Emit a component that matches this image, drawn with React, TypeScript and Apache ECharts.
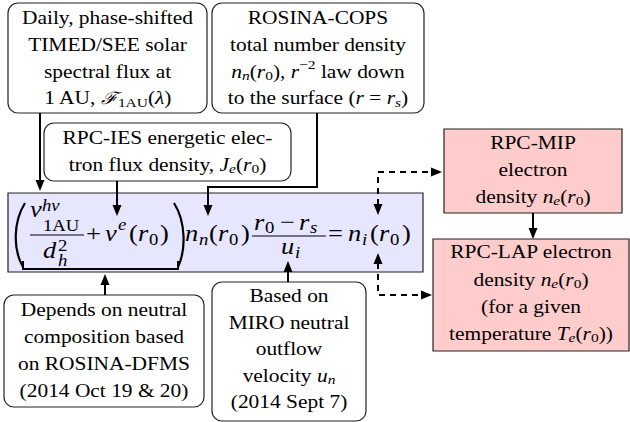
import React, { useEffect, useRef } from "react";
import * as echarts from "echarts";

// ---------------- content ----------------
const timedLines = ["Daily, phase-shifted", "TIMED/SEE solar", "spectral flux at", "1 AU, {cal|ℱ}{sub|1AU}({i|λ})"];
const copsLines = ["ROSINA-COPS", "total number density", "{i|n}{isub|n}({i|r}{sub|0}), {i|r}{sup|−2} law down", "to the surface ({i|r} = {i|r}{isub|s})"];
const iesLines = ["RPC-IES energetic elec-", "tron flux density, {i|J}{isub|e}({i|r}{sub|0})"];
const dfmsLines = ["Depends on neutral", "composition based", "on ROSINA-DFMS", "(2014 Oct 19 & 20)"];
const miroLines = ["Based on", "MIRO neutral", "outflow", "velocity {i|u}{isub|n}", "(2014 Sept 7)"];
const mipLines = ["RPC-MIP", "electron", "density {i|n}{isub|e}({i|r}{sub|0})"];
const lapLines = ["RPC-LAP electron", "density {i|n}{isub|e}({i|r}{sub|0})", "(for a given", "temperature {i|T}{isub|e}({i|r}{sub|0}))"];

// formula glyphs and their kinds (m = main upright, mi = main italic, s = small upright, si = small italic)
const formulaGlyphs = ["ν", "hν", "1AU", "d", "2", "h", "+", "ν", "e", "(", "r", "0", ")", "n", "n", "(", "r", "0", ")", "r", "0", "−", "r", "s", "u", "i", "=", "n", "i", "(", "r", "0", ")"];
const formulaKinds = ["mi", "si", "s", "mi", "s", "si", "m", "mi", "si", "m", "mi", "s", "m", "mi", "si", "m", "mi", "s", "m", "mi", "s", "m", "mi", "si", "mi", "si", "m", "mi", "si", "m", "mi", "s", "m"];

// ---------------- layout ----------------
const formulaLayout = [
  [30, 217], [42, 211], [43, 231], [43, 258], [58, 251], [58, 266],
  [86, 241], [105, 241], [118, 230],
  [129, 241], [138, 241], [149, 245], [160, 241],
  [185, 241], [199, 245],
  [209, 241], [218, 241], [229, 245], [241, 241],
  [254, 230], [265, 233], [280, 230], [299, 230], [310, 233],
  [281, 254], [295, 258],
  [328, 241],
  [348, 241], [362, 245],
  [370, 241], [379, 241], [390, 245], [402, 241],
];
const fractionBars = [[30, 84, 235], [252, 326, 236]];

const FONT = "Liberation Serif";
const TEXT_SIZE = 18;
const TEXT_SX = 1.19;
const MATH_M = 24;
const MATH_S = 17;
const MATH_SX = 1.1;
const CENTRAL = 0.3375;
const BLUE = "#e6e6ff";
const PINK = "#ffcccc";

const RICH = {
  t: { fontFamily: FONT, fontSize: TEXT_SIZE, fill: "#000" },
  i: { fontFamily: FONT, fontSize: TEXT_SIZE, fontStyle: "italic", fill: "#000" },
  sub: { fontFamily: FONT, fontSize: 13, fill: "#000", padding: [8, 0, 0, 0] },
  isub: { fontFamily: FONT, fontSize: 13, fontStyle: "italic", fill: "#000", padding: [8, 0, 0, 0] },
  sup: { fontFamily: FONT, fontSize: 13, fill: "#000", padding: [0, 0, 14, 0] },
  cal: { fontFamily: "DejaVu Serif", fontSize: 17, fontStyle: "italic", fill: "#000" },
};

// wrap every untagged run of text in the plain rich style "t"
function wrapPlain(s: string): string {
  return s.split(/(\{[a-z]+\|[^}]*\})/).map((p) => (p === "" ? "" : p[0] === "{" ? p : `{t|${p}}`)).join("");
}

type Box = { lines: string[]; x: number; y: number; w: number; h: number; r: number; fill: string; cx: number; b0: number; gap: number };

const boxes: Box[] = [
  { lines: timedLines, x: 8, y: 3, w: 199, h: 110, r: 10, fill: "#fff", cx: 107.5, b0: 24, gap: 26.7 },
  { lines: copsLines, x: 212, y: 3, w: 212, h: 110, r: 10, fill: "#fff", cx: 318, b0: 24, gap: 26.7 },
  { lines: iesLines, x: 44, y: 123, w: 247, h: 58, r: 10, fill: "#fff", cx: 167.5, b0: 143.5, gap: 27 },
  { lines: dfmsLines, x: 4, y: 295, w: 200, h: 112, r: 10, fill: "#fff", cx: 104, b0: 316, gap: 27 },
  { lines: miroLines, x: 212, y: 282, w: 154, h: 139, r: 10, fill: "#fff", cx: 289, b0: 302, gap: 26.5 },
  { lines: mipLines, x: 444, y: 129, w: 178, h: 84, r: 0, fill: PINK, cx: 533, b0: 149, gap: 27 },
  { lines: lapLines, x: 433, y: 239, w: 196, h: 112, r: 0, fill: PINK, cx: 531, b0: 258, gap: 27.3 },
];

function buildElements() {
  const els: any[] = [];
  const black = "#000";
  // main equation box
  els.push({ type: "rect", silent: true, shape: { x: 8, y: 193, width: 415, height: 79 }, style: { fill: BLUE, stroke: "#222", lineWidth: 1.2 } });
  boxes.forEach((b) => {
    els.push({ type: "rect", silent: true, shape: { x: b.x, y: b.y, width: b.w, height: b.h, r: b.r }, style: { fill: b.fill, stroke: "#222", lineWidth: 1.2 } });
    b.lines.forEach((ln, k) => {
      const base = b.b0 + k * b.gap;
      els.push({
        type: "text", silent: true, x: b.cx, y: base - CENTRAL * TEXT_SIZE, scaleX: TEXT_SX,
        style: { text: wrapPlain(ln), fontFamily: FONT, fontSize: TEXT_SIZE, fill: black, align: "center", verticalAlign: "middle", rich: RICH },
      });
    });
  });

  // formula glyphs
  formulaGlyphs.forEach((g, k) => {
    const kind = formulaKinds[k];
    const size = kind[0] === "m" ? MATH_M : MATH_S;
    const italic = kind.endsWith("i");
    const [x, base] = formulaLayout[k];
    els.push({
      type: "text", silent: true, x, y: base - CENTRAL * size, scaleX: MATH_SX,
      style: { text: g, fontFamily: FONT, fontSize: size, fontStyle: italic ? "italic" : "normal", fill: black, align: "left", verticalAlign: "middle" },
    });
  });
  fractionBars.forEach(([x1, x2, y]) => {
    els.push({ type: "line", silent: true, shape: { x1, y1: y, x2, y2: y }, style: { stroke: black, lineWidth: 1.2 } });
  });
  // big parentheses and bracket
  els.push({ type: "bezierCurve", silent: true, shape: { x1: 25, y1: 203, cpx1: 13, cpy1: 222, cpx2: 13, cpy2: 250, x2: 23, y2: 267 }, style: { stroke: black, lineWidth: 2.2, fill: null } });
  els.push({ type: "bezierCurve", silent: true, shape: { x1: 174, y1: 203, cpx1: 186, cpy1: 222, cpx2: 186, cpy2: 250, x2: 178, y2: 267 }, style: { stroke: black, lineWidth: 2.2, fill: null } });
  els.push({ type: "polyline", silent: true, shape: { points: [[23, 261], [23, 269], [178, 269], [178, 261]] }, style: { stroke: black, lineWidth: 2, fill: null } });

  // arrows
  const AL = 11, AW = 4.5;
  const head = (x: number, y: number, dir: string) => {
    let pts: number[][];
    if (dir === "down") pts = [[x, y], [x - AW, y - AL], [x + AW, y - AL]];
    else if (dir === "up") pts = [[x, y], [x - AW, y + AL], [x + AW, y + AL]];
    else pts = [[x, y], [x - AL, y - AW], [x - AL, y + AW]];
    els.push({ type: "polygon", silent: true, shape: { points: pts }, style: { fill: black } });
  };
  const solid = (pts: number[][]) => els.push({ type: "polyline", silent: true, shape: { points: pts }, style: { stroke: black, lineWidth: 2, fill: null } });
  const dashed = (pts: number[][]) => els.push({ type: "polyline", silent: true, shape: { points: pts }, style: { stroke: black, lineWidth: 2, fill: null, lineDash: [6, 5] } });

  solid([[40, 113], [40, 181]]); head(40, 191, "down");
  solid([[117, 181], [117, 206]]); head(117, 216, "down");
  solid([[317, 113], [317, 187], [208, 187], [208, 206]]); head(208, 216, "down");
  dashed([[378, 205], [378, 172], [432, 172]]); head(378, 215, "down"); head(442, 172, "right");
  dashed([[378, 263], [378, 295], [422, 295]]); head(378, 253, "up"); head(432, 295, "right");
  solid([[533, 213], [533, 229]]); head(533, 239, "down");
  solid([[105, 295], [105, 284]]); head(105, 274, "up");
  solid([[288, 282], [288, 271]]); head(288, 261, "up");
  return els;
}

export default function App() {
  const ref = useRef<HTMLDivElement>(null);
  useEffect(() => {
    document.body.style.margin = "0";
    if (!ref.current) return;
    const chart = echarts.init(ref.current, undefined, { renderer: "svg" });
    chart.setOption({
      animation: false,
      backgroundColor: "#fff",
      graphic: { elements: buildElements() },
    });
    return () => chart.dispose();
  }, []);
  return <div ref={ref} style={{ width: 630, height: 422 }} />;
}
